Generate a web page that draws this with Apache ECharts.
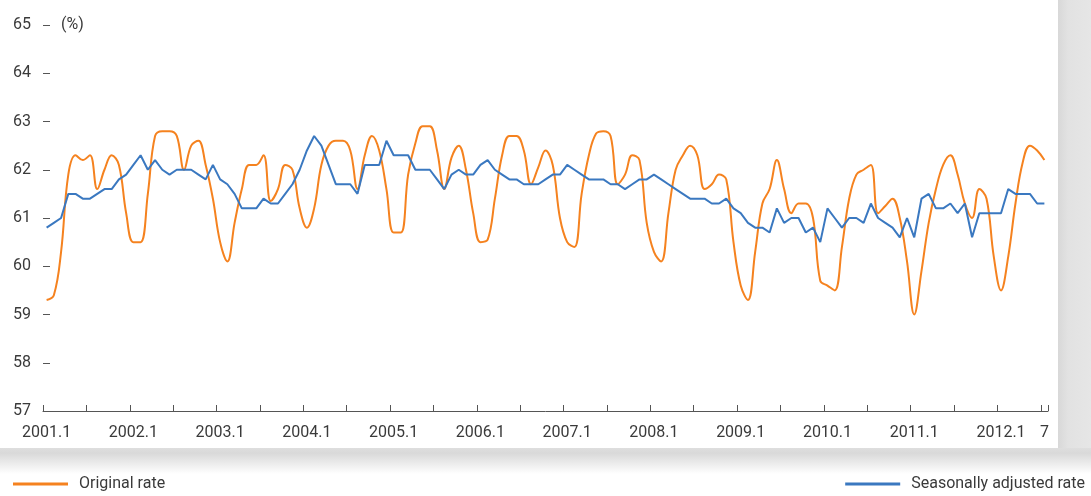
<!DOCTYPE html>
<html>
<head>
<meta charset="utf-8">
<script src="https://cdn.jsdelivr.net/npm/echarts@6/dist/echarts.min.js"></script>
<style>
  html, body { margin: 0; padding: 0; background: #fff; }
  #wrap { position: relative; width: 1091px; height: 496px; overflow: hidden; background: #fff; }
  #shadeRight {
    position: absolute; left: 1058px; top: 0; width: 33px; height: 452px;
    background: linear-gradient(to right, #d8d8d8 0, #e2e2e2 30%, #e6e6e6 100%);
  }
  #shadeBottom {
    position: absolute; left: 0; top: 448px; width: 1091px; height: 26px;
    background: linear-gradient(to bottom, #dedede 0, #d9d9d9 20%, #ececec 60%, #ffffff 100%);
  }
  #container { position: absolute; left: 0; top: 0; width: 1091px; height: 496px; }
</style>
</head>
<body>
<div id="wrap">
  <div id="shadeRight"></div>
  <div id="shadeBottom"></div>
  <div id="container"></div>
</div>
<script>
// 2001.1 ~ 2012.7, monthly (%)
var startYear = 2001;
var monthCount = 139;

var original2001 = [59.3, 59.4, 60.3, 61.9, 62.3, 62.2, 62.3, 61.6, 62.0, 62.3, 62.1, 61.1];
var original2002 = [60.5, 60.5, 61.5, 62.7, 62.8, 62.8, 62.7, 62.0, 62.5, 62.6, 62.1, 61.4];
var original2003 = [60.5, 60.1, 60.9, 61.6, 62.1, 62.1, 62.3, 61.35, 61.6, 62.1, 62.0, 61.2];
var original2004 = [60.8, 61.2, 62.1, 62.5, 62.6, 62.6, 62.4, 61.6, 62.3, 62.7, 62.4, 61.6];
var original2005 = [60.7, 60.7, 61.9, 62.55, 62.9, 62.9, 62.4, 61.6, 62.25, 62.5, 62.0, 61.1];
var original2006 = [60.5, 60.55, 61.4, 62.3, 62.7, 62.7, 62.4, 61.7, 62.05, 62.4, 62.1, 61.0];
var original2007 = [60.5, 60.4, 61.5, 62.3, 62.75, 62.8, 62.7, 61.7, 61.9, 62.3, 62.2, 60.9];
var original2008 = [60.3, 60.1, 61.1, 62.0, 62.3, 62.5, 62.3, 61.6, 61.7, 61.9, 61.8, 60.5];
var original2009 = [59.6, 59.3, 60.3, 61.3, 61.6, 62.2, 61.6, 61.1, 61.3, 61.3, 61.0, 59.7];
var original2010 = [59.6, 59.5, 60.4, 61.4, 61.9, 62.0, 62.1, 61.1, 61.25, 61.4, 61.0, 60.1];
var original2011 = [59.0, 59.9, 60.9, 61.6, 62.1, 62.3, 61.9, 61.3, 61.0, 61.6, 61.4, 60.2];
var original2012 = [59.5, 60.2, 61.3, 62.15, 62.5, 62.4, 62.2];

var adjusted2001 = [60.8, 60.9, 61.0, 61.5, 61.5, 61.4, 61.4, 61.5, 61.6, 61.6, 61.8, 61.9];
var adjusted2002 = [62.1, 62.3, 62.0, 62.2, 62.0, 61.9, 62.0, 62.0, 62.0, 61.9, 61.8, 62.1];
var adjusted2003 = [61.8, 61.7, 61.5, 61.2, 61.2, 61.2, 61.4, 61.3, 61.3, 61.5, 61.7, 62.0];
var adjusted2004 = [62.4, 62.7, 62.5, 62.1, 61.7, 61.7, 61.7, 61.5, 62.1, 62.1, 62.1, 62.6];
var adjusted2005 = [62.3, 62.3, 62.3, 62.0, 62.0, 62.0, 61.8, 61.6, 61.9, 62.0, 61.9, 61.9];
var adjusted2006 = [62.1, 62.2, 62.0, 61.9, 61.8, 61.8, 61.7, 61.7, 61.7, 61.8, 61.9, 61.9];
var adjusted2007 = [62.1, 62.0, 61.9, 61.8, 61.8, 61.8, 61.7, 61.7, 61.6, 61.7, 61.8, 61.8];
var adjusted2008 = [61.9, 61.8, 61.7, 61.6, 61.5, 61.4, 61.4, 61.4, 61.3, 61.3, 61.4, 61.2];
var adjusted2009 = [61.1, 60.9, 60.8, 60.8, 60.7, 61.2, 60.9, 61.0, 61.0, 60.7, 60.8, 60.5];
var adjusted2010 = [61.2, 61.0, 60.8, 61.0, 61.0, 60.9, 61.3, 61.0, 60.9, 60.8, 60.6, 61.0];
var adjusted2011 = [60.6, 61.4, 61.5, 61.2, 61.2, 61.3, 61.1, 61.3, 60.6, 61.1, 61.1, 61.1];
var adjusted2012 = [61.1, 61.6, 61.5, 61.5, 61.5, 61.3, 61.3];

var yTicks = [57, 58, 59, 60, 61, 62, 63, 64, 65];

var original = [].concat(original2001, original2002, original2003, original2004, original2005, original2006,
  original2007, original2008, original2009, original2010, original2011, original2012);
var adjusted = [].concat(adjusted2001, adjusted2002, adjusted2003, adjusted2004, adjusted2005, adjusted2006,
  adjusted2007, adjusted2008, adjusted2009, adjusted2010, adjusted2011, adjusted2012);

var months = [];
for (var i = 0; i < monthCount; i++) {
  months.push((startYear + Math.floor(i / 12)) + "." + (i % 12 + 1));
}

var fontName = "Roboto, 'Liberation Sans', sans-serif";
var textColor = "#3a3a3a";

var dom = document.getElementById("container");
var myChart = echarts.init(dom, null, { renderer: "canvas" });

var option = {
  animation: false,
  textStyle: { fontFamily: fontName },
  grid: { left: 43, right: 43, top: 25, bottom: 85 },
  graphic: [
    { type: "text", left: 61, top: 17, style: { text: "(%)", fontSize: 16, fill: textColor, fontFamily: fontName } }
  ],
  legend: [
    {
      data: ["Original rate"], left: 13, top: 476, padding: 0, icon: "rect",
      itemWidth: 55, itemHeight: 3,
      textStyle: { fontSize: 16, color: textColor, fontFamily: fontName, padding: [0, 0, 0, 6] }
    },
    {
      data: ["Seasonally adjusted rate"], right: 6, top: 476, padding: 0, icon: "rect",
      itemWidth: 55, itemHeight: 3,
      textStyle: { fontSize: 16, color: textColor, fontFamily: fontName, padding: [0, 0, 0, 6] }
    }
  ],
  xAxis: {
    type: "category",
    boundaryGap: true,
    data: months,
    axisLine: { lineStyle: { color: "#555", width: 1 } },
    axisTick: {
      show: true, inside: true, length: 6, interval: 5, alignWithLabel: false,
      lineStyle: { color: "#555", width: 1 }
    },
    axisLabel: {
      margin: 14, fontSize: 16, color: textColor, fontFamily: fontName,
      interval: function (index) { return index % 12 === 0 || index === monthCount - 1; },
      formatter: function (value, index) { return index === monthCount - 1 ? "7" : value; }
    },
    splitLine: { show: false }
  },
  yAxis: {
    type: "value",
    min: yTicks[0],
    max: yTicks[yTicks.length - 1],
    interval: 1,
    axisLine: { show: false },
    axisTick: { show: true, inside: true, length: 7, lineStyle: { color: "#555" } },
    axisLabel: { margin: 12, fontSize: 16, color: textColor, fontFamily: fontName },
    splitLine: { show: false }
  },
  series: [
    {
      name: "Original rate",
      type: "line",
      data: original,
      smooth: 0.4,
      showSymbol: false,
      lineStyle: { color: "#f5821f", width: 2 },
      itemStyle: { color: "#f5821f" }
    },
    {
      name: "Seasonally adjusted rate",
      type: "line",
      data: adjusted,
      showSymbol: false,
      lineStyle: { color: "#3a78c0", width: 2 },
      itemStyle: { color: "#3a78c0" }
    }
  ]
};

myChart.setOption(option);
window.addEventListener("resize", myChart.resize);
</script>
</body>
</html>
